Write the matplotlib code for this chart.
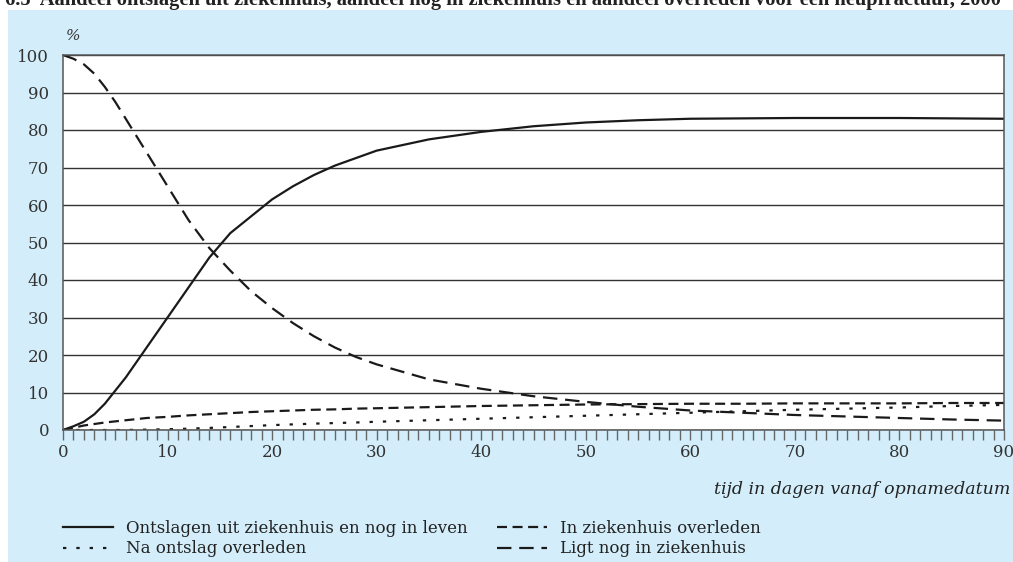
import matplotlib
matplotlib.use("AGG")
import matplotlib.pyplot as plt
from matplotlib.patches import Rectangle
from matplotlib.ticker import MultipleLocator

# days since admission
days = [0, 1, 2, 3, 4, 5, 6, 7, 8, 10, 12, 14, 16, 18, 20, 22, 24, 26, 28, 30,
        35, 40, 45, 50, 55, 60, 65, 70, 75, 80, 85, 90]

# Ontslagen uit ziekenhuis en nog in leven
ontslagen = [0, 1, 2.2, 4.2, 7, 10.5, 14, 18, 22, 30, 38, 46, 52.5, 57, 61.5, 65,
             68, 70.5, 72.5, 74.5, 77.5, 79.5, 81, 82, 82.6, 83, 83.1, 83.2, 83.2,
             83.2, 83.1, 83]
# Na ontslag overleden
na_ontslag = [0, 0, 0, 0, 0, 0, 0, 0.05, 0.1, 0.2, 0.35, 0.55, 0.8, 1.05, 1.3, 1.5,
              1.7, 1.85, 2.0, 2.2, 2.6, 3.0, 3.4, 3.8, 4.2, 4.6, 5.0, 5.4, 5.7,
              6.0, 6.4, 6.7]
# In ziekenhuis overleden
overleden = [0, 0.6, 1.2, 1.6, 2.0, 2.3, 2.6, 2.9, 3.2, 3.5, 3.9, 4.2, 4.5, 4.8,
             5.0, 5.2, 5.4, 5.5, 5.7, 5.8, 6.1, 6.4, 6.6, 6.8, 6.9, 7.0, 7.0,
             7.1, 7.1, 7.1, 7.2, 7.2]
# Ligt nog in ziekenhuis
ligt_nog = [100, 99, 97.5, 95, 91.5, 87.5, 83, 78.5, 74, 65, 56, 48.5, 42.5, 37,
            32.5, 28.5, 25, 22, 19.5, 17.5, 13.5, 11, 9, 7.5, 6.2, 5.2, 4.6,
            4.0, 3.6, 3.2, 2.8, 2.5]

title = ("6.5  Aandeel ontslagen uit ziekenhuis, aandeel nog in ziekenhuis en "
         "aandeel overleden voor een heupfractuur, 2000")

plt.rcParams["font.family"] = ["DejaVu Serif"]

W, H = 1013, 562
fig = plt.figure(figsize=(W / 100, H / 100), dpi=100)
fig.patch.set_facecolor("white")
fig.add_artist(Rectangle((8 / W, 0), 1 - 8 / W, 1 - 10 / H, transform=fig.transFigure,
                         facecolor="#d3eefa", edgecolor="none", zorder=-10))

# title is cut off at the top edge in the original
fig.text(5 / W, 1 - 4.5 / H, title, fontsize=14.8, fontweight="bold", ha="left",
         va="baseline", color="#222222", family="Liberation Serif")

ax = fig.add_axes([63 / W, 132 / H, (1004 - 63) / W, (430 - 55) / H])
ax.set_facecolor("white")
ax.set_xlim(0, 90)
ax.set_ylim(0, 100)
ax.xaxis.set_major_locator(MultipleLocator(10))
ax.xaxis.set_minor_locator(MultipleLocator(1))
ax.yaxis.set_major_locator(MultipleLocator(10))
ax.tick_params(axis="x", which="both", direction="out", length=7, width=1,
               color="#666666", labelsize=12, labelcolor="#333333", pad=3)
ax.tick_params(axis="y", length=0, labelsize=12, labelcolor="#333333", pad=10)
ax.grid(axis="y", color="#333333", linewidth=1.0)
ax.set_axisbelow(True)
for s in ax.spines.values():
    s.set_color("#555555")
    s.set_linewidth(1.1)

lw = 1.6
ax.plot(days, ontslagen, color="#1a1a1a", lw=lw, label="Ontslagen uit ziekenhuis en nog in leven")
ax.plot(days, na_ontslag, color="#1a1a1a", lw=lw, dashes=(1.5, 4.5), label="Na ontslag overleden")
ax.plot(days, overleden, color="#1a1a1a", lw=lw, dashes=(4.5, 2.5), label="In ziekenhuis overleden")
ax.plot(days, ligt_nog, color="#1a1a1a", lw=lw, dashes=(6.5, 3.5), label="Ligt nog in ziekenhuis")

fig.text(66 / W, 1 - 36 / H, "%", fontsize=11, style="italic", color="#333333",
         ha="left", va="center")
fig.text(1010 / W, 1 - 490 / H, "tijd in dagen vanaf opnamedatum", fontsize=12.5,
         style="italic", color="#222222", ha="right", va="center")

leg = fig.legend(loc="upper left", bbox_to_anchor=(63 / W, 1 - 520 / H), ncol=2,
                 frameon=False, fontsize=12, handlelength=3.0, handletextpad=0.75,
                 columnspacing=1.8, labelspacing=0.2, borderaxespad=0, borderpad=0)
for t in leg.get_texts():
    t.set_color("#222222")

fig.savefig("out.png", dpi=100)
